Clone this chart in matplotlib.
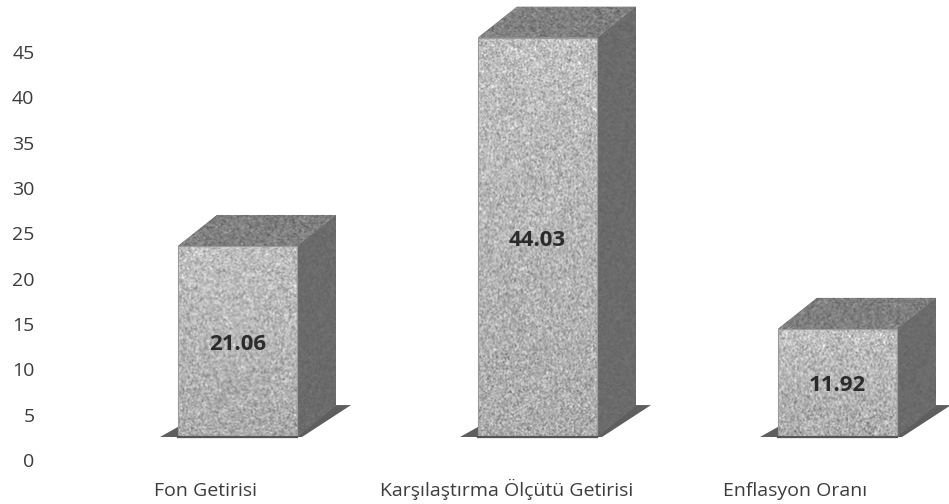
import matplotlib
matplotlib.use("Agg")
import matplotlib.pyplot as plt
import numpy as np
from matplotlib.transforms import ScaledTranslation
from matplotlib.patches import Polygon

plt.rcParams['font.family'] = ['Open Sans', 'DejaVu Sans']

categories = ["Fon Getirisi", "Karşılaştırma Ölçütü Getirisi", "Enflasyon Oranı"]
values = [21.06, 44.03, 11.92]
value_labels = ["21.06", "44.03", "11.92"]
y_ticks = [0, 5, 10, 15, 20, 25, 30, 35, 40, 45]

W, H = 949, 504
PX_PER_X = 300.0
PX_PER_Y = 9.07
LEFT, BOTTOM = 40, 34
fig = plt.figure(figsize=(W / 100, H / 100), dpi=100, facecolor="white")
ax = fig.add_axes([LEFT / W, BOTTOM / H, (W - LEFT) / W, (H - BOTTOM) / H])
xlim = ((LEFT - 237.5) / PX_PER_X, (W - 237.5) / PX_PER_X)
ylim = (-10 / PX_PER_Y, 460 / PX_PER_Y)
for s in ax.spines.values():
    s.set_visible(False)

base = 23 / PX_PER_Y          # floor raised above the zero line
bw = 119 / PX_PER_X           # front face width
dx, dy = 39 / PX_PER_X, 31 / PX_PER_Y   # 3-D depth
fl = 18 / PX_PER_X            # floor overhang

rng = np.random.default_rng(3)   # decorative print-grain texture only


def grain(h, w, mean, amp, light=0.0):
    """Speckled grey texture (style of the scanned fill, not data)."""
    n = rng.normal(0, 1, (h, w))
    n = (n + np.roll(n, 1, 0) + np.roll(n, 1, 1) + np.roll(np.roll(n, 1, 0), 1, 1)) / 2
    g = mean + amp * n + light * np.linspace(1, -1, h)[:, None]
    return np.clip(g, 0, 1)


def textured(patch, box, mean, amp, z):
    ax.add_patch(patch)
    patch.set_zorder(z - 0.1)
    h = max(int((box[3] - box[2]) * PX_PER_Y), 2)
    w = max(int((box[1] - box[0]) * PX_PER_X), 2)
    im = ax.imshow(grain(h, w, mean, amp), extent=box, origin="upper", cmap="gray",
                   vmin=0, vmax=1, aspect="auto", interpolation="bilinear", zorder=z)
    im.set_clip_path(patch)


for i, v in enumerate(values):
    l, r = i - bw / 2, i + bw / 2
    t = base + v
    # floor
    ax.fill([l - fl, r + 5 / PX_PER_X, r + fl + dx - 3 / PX_PER_X, l + dx],
            [base, base, base + dy * 1.03, base + dy * 1.03],
            color="#5e5e5e", lw=0, zorder=1)
    # side
    textured(Polygon([(r, base), (r + dx, base + dy), (r + dx, t + dy), (r, t)],
                     fc="#6c6c6c", lw=0),
             (r, r + dx, base, t + dy), 0.42, 0.015, 2)
    # top
    textured(Polygon([(l, t), (l + dx, t + dy), (r + dx, t + dy), (r, t)],
                     fc="#7d7d7d", lw=0),
             (l, r + dx, t, t + dy), 0.50, 0.045, 2)
    # front
    bar = ax.bar(i, v, bottom=base, width=bw, color="#b4b4b4", lw=0, zorder=3)[0]
    im = ax.imshow(grain(max(int(v * PX_PER_Y), 2), 119, 0.71, 0.065, 0.04),
                   extent=(l, r, base, t), origin="upper", cmap="gray", vmin=0, vmax=1,
                   aspect="auto", interpolation="bilinear", zorder=3.1)
    im.set_clip_path(bar)
    ax.plot([l, l, r, r, l], [base, t, t, base, base], color="#9a9a9a", lw=0.8, zorder=4)
    ax.plot([l, r], [base, base], color="#555555", lw=1.6, zorder=4)
    ax.text(i, base + v / 2 - 3 / PX_PER_Y, value_labels[i], ha="center", va="center",
            fontsize=16, fontweight="bold", color="#2b2b2b", zorder=5)

ax.set_xlim(*xlim)
ax.set_ylim(*ylim)
ax.set_yticks(y_ticks)
ax.set_yticklabels([str(t) for t in y_ticks])
ax.set_xticks(range(len(categories)))
ax.set_xticklabels(categories)
ax.tick_params(axis="both", length=0, labelsize=14, labelcolor="#3c3c3c")
ax.tick_params(axis="y", pad=4)
ax.tick_params(axis="x", pad=19)
for lab, off in zip(ax.get_xticklabels(), [-32, -31, -42]):
    lab.set_verticalalignment("baseline")
    lab.set_transform(lab.get_transform() + ScaledTranslation(off / 100, 0, fig.dpi_scale_trans))

fig.savefig("out.png", dpi=100)
